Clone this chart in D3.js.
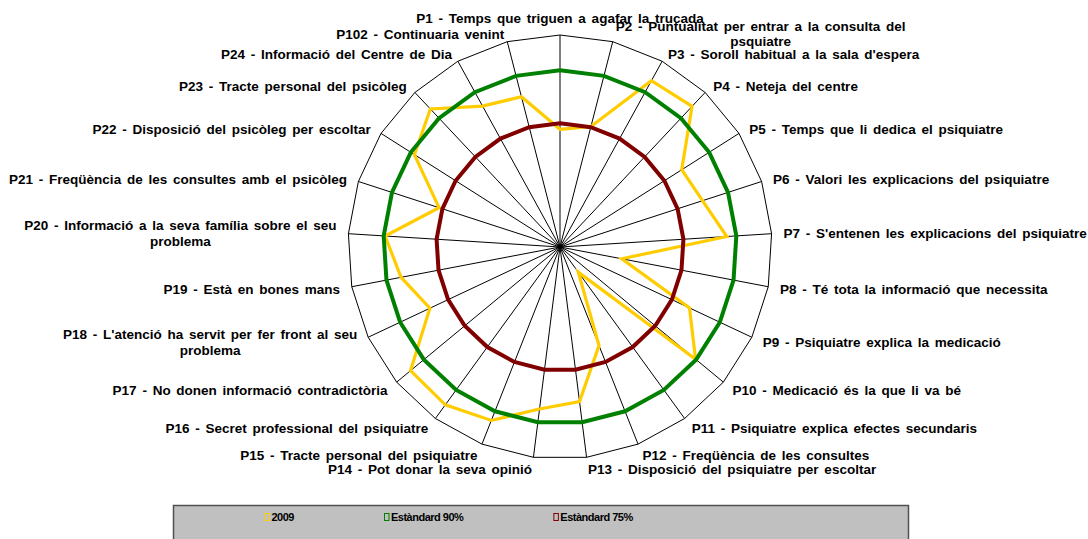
<!DOCTYPE html>
<html lang="ca">
<head>
  <meta charset="UTF-8">
  <style>
    body, html { margin: 0; padding: 0; background: #fff; }
    svg { display: block; }
    text { font-family: "Liberation Sans", Arial, sans-serif; font-weight: bold; fill: #000; }
  </style>
</head>
<body>
  <svg id="svg" width="1088" height="539"></svg>

  <script src="https://d3js.org/d3.v7.min.js"></script>
  <script>
    // labels of the 25 axes, clockwise from the top
    const categories = [
      "P1 - Temps que triguen a agafar la trucada",
      "P2 - Puntualitat per entrar a la consulta del\npsquiatre",
      "P3 - Soroll habitual a la sala d'espera",
      "P4 - Neteja del centre",
      "P5 - Temps que li dedica el psiquiatre",
      "P6 - Valori les explicacions del psiquiatre",
      "P7 - S'entenen les explicacions del psiquiatre",
      "P8 - Té tota la informació que necessita",
      "P9 - Psiquiatre explica la medicació",
      "P10 - Medicació és la que li va bé",
      "P11 - Psiquiatre explica efectes secundaris",
      "P12 - Freqüència de les consultes",
      "P13 - Disposició del psiquiatre per escoltar",
      "P14 - Pot donar la seva opinió",
      "P15 - Tracte personal del psiquiatre",
      "P16 - Secret professional del psiquiatre",
      "P17 - No donen informació contradictòria",
      "P18 - L'atenció ha servit per fer front al seu\nproblema",
      "P19 - Està en bones mans",
      "P20 - Informació a la seva família sobre el seu\nproblema",
      "P21 - Freqüència de les consultes amb el psicòleg",
      "P22 - Disposició del psicòleg per escoltar",
      "P23 - Tracte personal del psicòleg",
      "P24 - Informació del Centre de Dia",
      "P102 - Continuaria venint"
    ]

    const values2009 = [73.3, 75.2, 93.7, 94.6, 80.8, 82.4, 87.3, 57.8, 80.5, 89.8, 48.8, 70.0, 84.1,
                        86.2, 92.8, 95.2, 94.9, 80.7, 85.8, 89.6, 76.0, 88.8, 93.6, 85.5, 83.9]
    const standard90 = [90, 90, 90, 90, 90, 90, 90, 90, 90, 90, 90, 90, 90,
                        90, 90, 90, 90, 90, 90, 90, 90, 90, 90, 90, 90]
    const standard75 = [75, 75, 75, 75, 75, 75, 75, 75, 75, 75, 75, 75, 75,
                        75, 75, 75, 75, 75, 75, 75, 75, 75, 75, 75, 75]

    const seriesNames = ["2009", "Estàndard 90%", "Estàndard 75%"]
    const scaleMin = 40
    const scaleMax = 100

    const svg = d3.select('#svg')
    const cx = 560
    const cy = 247
    const radius = 212

    const rscale = d3.scaleLinear()
        .domain([scaleMin, scaleMax])
        .range([0, radius])

    const angle = d3.scaleLinear()
        .domain([0, categories.length])
        .range([0, 2 * Math.PI])

    const colors = d3.scaleOrdinal()
        .domain(seriesNames)
        .range(['#ffcc00', '#008000', '#800000'])
    const widths = { "2009": 3.2, "Estàndard 90%": 4, "Estàndard 75%": 4 }

    const chart = svg.append('g').attr('transform', `translate(${cx}, ${cy})`)

    const point = (i, v) => {
        const a = angle(i)
        return [rscale(v) * Math.sin(a), -rscale(v) * Math.cos(a)]
    }

    // spokes
    chart.append('g')
        .selectAll('line')
        .data(categories)
        .enter()
        .append('line')
        .attr('x1', 0).attr('y1', 0)
        .attr('x2', (d, i) => point(i, scaleMax)[0])
        .attr('y2', (d, i) => point(i, scaleMax)[1])
        .attr('stroke', '#000')
        .attr('stroke-width', 1)

    // outer polygon
    chart.append('path')
        .attr('d', d3.line().curve(d3.curveLinearClosed)(categories.map((d, i) => point(i, scaleMax))))
        .attr('fill', 'none')
        .attr('stroke', '#000')
        .attr('stroke-width', 1)

    // series
    const radial = d3.lineRadial()
        .angle((d, i) => angle(i))
        .radius(d => rscale(d))
        .curve(d3.curveLinearClosed)

    const series = [values2009, standard90, standard75]
    chart.append('g')
        .selectAll('path')
        .data(series)
        .enter()
        .append('path')
        .attr('d', d => radial(d))
        .attr('fill', 'none')
        .attr('stroke', (d, i) => colors(seriesNames[i]))
        .attr('stroke-width', (d, i) => widths[seriesNames[i]])
        .attr('stroke-linejoin', 'miter')

    // axis labels
    const lineGap = 15.5
    const labels = chart.append('g')
        .style('font-size', '13.5px')
        .style('word-spacing', '2px')
    categories.forEach((c, i) => {
        const a = angle(i)
        const s = Math.sin(a)
        const co = Math.cos(a)
        const lines = c.split('\n')
        let x = (radius + 12) * s
        let yc = -(radius + (co > 0 ? 8 : 12)) * co
        let anchor = s > 0.01 ? 'start' : (s < -0.01 ? 'end' : 'middle')
        if (anchor === 'middle') yc -= 9

        const g = labels.append('g')
        const t = g.append('text')
            .attr('text-anchor', anchor)
            .attr('x', x)
            .attr('y', yc - (lines.length - 1) * lineGap / 2)
            .attr('dy', '0.35em')
            .text(lines[0])
        if (lines.length > 1) {
            const w = t.node().getComputedTextLength()
            const mid = anchor === 'start' ? x + w / 2 : (anchor === 'end' ? x - w / 2 : x)
            t.attr('text-anchor', 'middle').attr('x', mid)
            lines.slice(1).forEach((l, k) => {
                g.append('text')
                    .attr('text-anchor', 'middle')
                    .attr('x', mid)
                    .attr('y', yc - (lines.length - 1) * lineGap / 2 + (k + 1) * lineGap)
                    .attr('dy', '0.35em')
                    .text(l)
            })
        }
    })

    // legend
    const legend = svg.append('g')
    legend.append('rect')
        .attr('x', 173.5)
        .attr('y', 505.5)
        .attr('width', 735)
        .attr('height', 40)
        .attr('fill', '#c0c0c0')
        .attr('stroke', '#505050')
        .attr('stroke-width', 1.5)

    let lx = 173.5 + 91
    seriesNames.forEach(name => {
        legend.append('rect')
            .attr('x', lx + 0.5)
            .attr('y', 513.5)
            .attr('width', 4.5)
            .attr('height', 7)
            .attr('fill', 'none')
            .attr('stroke', colors(name))
            .attr('stroke-width', 1)
        const t = legend.append('text')
            .attr('x', lx + 7)
            .attr('y', 517.5)
            .attr('dy', '0.35em')
            .style('font-size', '11px')
            .style('letter-spacing', '-0.5px')
            .text(name)
        lx += 7 + t.node().getComputedTextLength() + 90
    })
  </script>
</body>
</html>
